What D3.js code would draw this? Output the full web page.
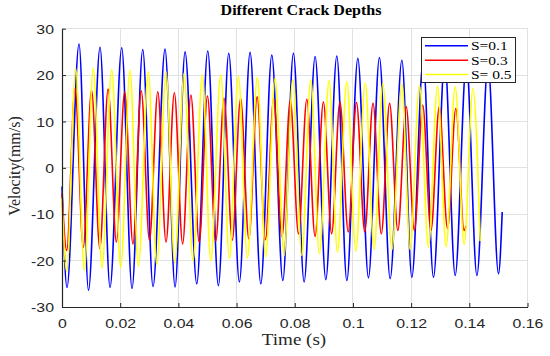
<!DOCTYPE html>
<html>
<head>
<meta charset="utf-8">
<script src="https://cdn.jsdelivr.net/npm/d3@7"></script>
<style>
  html, body { margin: 0; padding: 0; background: #fff; }
  svg { display: block; }
</style>
</head>
<body>
<svg id="chart" width="550" height="356"></svg>
<script>
// ---------- data (extrema; time in s, velocity in mm/s) ----------
const titleText = "Different Crack Depths";
const xLabel = "Time (s)";
const yLabel = "Velocity(mm/s)";
const seriesNames = ["S=0.1", "S=0.3", "S= 0.5"];
const seriesColors = ["#0000ff", "#ff0000", "#ffff00"];
const xTicks = [0, 0.02, 0.04, 0.06, 0.08, 0.1, 0.12, 0.14, 0.16];
const xTickLabels = ["0", "0.02", "0.04", "0.06", "0.08", "0.1", "0.12", "0.14", "0.16"];
const yTicks = [-30, -20, -10, 0, 10, 20, 30];
const yTickLabels = ["-30", "-20", "-10", "0", "10", "20", "30"];

const blueT = [0, 0.00172, 0.00585, 0.00911, 0.01307, 0.01651, 0.02053, 0.02407, 0.02775, 0.03129,
  0.03542, 0.03886, 0.04230, 0.04632, 0.05010, 0.05375, 0.05732, 0.06097, 0.06465, 0.06833,
  0.07211, 0.07590, 0.07954, 0.08322, 0.08700, 0.09068, 0.09446, 0.09790, 0.10169, 0.10533,
  0.10911, 0.11279, 0.11682, 0.12025, 0.12414, 0.12768, 0.13157, 0.13514, 0.13900, 0.14261,
  0.14643, 0.15003, 0.15131];
const blueV = [-4, -25.8, 26.7, -26.4, 26.0, -25.8, 25.9, -26.0, 25.5, -25.6,
  25.6, -25.7, 25.0, -25.0, 25.2, -25.4, 24.7, -24.6, 24.9, -25.0,
  24.3, -24.3, 24.7, -24.6, 24.0, -24.1, 24.1, -24.3, 23.6, -23.7,
  23.8, -23.9, 23.2, -23.6, 23.2, -23.6, 23.0, -23.2, 22.8, -23.2,
  22.6, -22.8, -9.5];

const redT = [0, 0.00162, 0.00447, 0.00731, 0.01016, 0.01300, 0.01585, 0.01869, 0.02154, 0.02438,
  0.02724, 0.03007, 0.03293, 0.03576, 0.03862, 0.04145, 0.04431, 0.04715, 0.05000, 0.05284,
  0.05569, 0.05853, 0.06138, 0.06422, 0.06707, 0.06991, 0.07276, 0.07560, 0.07846, 0.08129,
  0.08415, 0.08698, 0.08984, 0.09268, 0.09553, 0.09837, 0.10122, 0.10406, 0.10691, 0.10975,
  0.11260, 0.11544, 0.11829, 0.12113, 0.12399, 0.12682, 0.12968, 0.13251, 0.13537, 0.13820,
  0.13890];
const redV = [-5.5, -17.8, 17.1, -17.1, 16.8, -17.4, 17.0, -16.0, 16.4, -16.4,
  16.6, -15.6, 16.4, -16.0, 16.2, -16.4, 15.7, -16.0, 15.5, -15.8,
  15.0, -15.6, 15.0, -15.3, 15.3, -15.5, 15.0, -14.8, 14.6, -14.2,
  14.8, -14.8, 14.2, -14.2, 14.2, -13.8, 14.1, -13.8, 13.9, -14.2,
  13.9, -13.5, 13.2, -13.5, 13.5, -13.5, 13.2, -13.1, 12.8, -13.5,
  -12.5];

const yellowT = [0, 0.00162, 0.00471, 0.00767, 0.01076, 0.01376, 0.01709, 0.02019, 0.02338, 0.02624,
  0.02968, 0.03257, 0.03576, 0.03875, 0.04195, 0.04505, 0.04825, 0.05114, 0.05457, 0.05753,
  0.06063, 0.06372, 0.06716, 0.06998, 0.07325, 0.07634, 0.07933, 0.08243, 0.08552, 0.08848,
  0.09182, 0.09467, 0.09790, 0.10100, 0.10420, 0.10729, 0.11028, 0.11338, 0.11682, 0.11967,
  0.12287, 0.12596, 0.12906, 0.13205, 0.13514, 0.13824, 0.14123, 0.14374];
const yellowV = [-6.6, -22.3, 21.4, -22.1, 21.5, -21.6, 21.2, -21.5, 21.1, -21.2,
  20.7, -20.9, 20.7, -20.5, 20.4, -20.0, 20.1, -20.0, 20.0, -19.5,
  19.8, -19.4, 19.5, -19.2, 19.3, -18.9, 19.1, -18.9, 19.0, -18.5,
  18.8, -18.2, 18.6, -18.0, 18.3, -17.6, 18.2, -17.6, 18.1, -17.6,
  17.8, -17.1, 17.6, -17.0, 17.5, -16.5, 17.1, -15.8];

// ---------- layout ----------
const svg = d3.select("#chart");
const mLeft = 62, mRight = 527.5, mTop = 28.7, mBottom = 307;
const x = d3.scaleLinear().domain([0, 0.16]).range([mLeft, mRight]);
const y = d3.scaleLinear().domain([-30, 30]).range([mBottom, mTop]);
const axisColor = "#262626";
const gridColor = "#e1e1e1";
const sx = 1.22; // horizontal stretch of the reference's text

// grid
svg.append("g").selectAll("line").data(xTicks).join("line")
  .attr("x1", d => x(d)).attr("x2", d => x(d))
  .attr("y1", mTop).attr("y2", mBottom)
  .attr("stroke", gridColor).attr("stroke-width", 1).attr("shape-rendering", "crispEdges");
svg.append("g").selectAll("line").data(yTicks).join("line")
  .attr("x1", mLeft).attr("x2", mRight)
  .attr("y1", d => y(d)).attr("y2", d => y(d))
  .attr("stroke", gridColor).attr("stroke-width", 1).attr("shape-rendering", "crispEdges");

// lines
const line = d3.line().x(d => x(d[0])).y(d => y(d[1])).curve(d3.curveMonotoneX);
const allSeries = [
  d3.zip(blueT, blueV),
  d3.zip(redT, redV),
  d3.zip(yellowT, yellowV)
];
const plot = svg.append("g");
allSeries.forEach((s, i) => {
  plot.append("path").datum(s)
    .attr("d", line)
    .attr("fill", "none")
    .attr("stroke", seriesColors[i])
    .attr("stroke-width", 1.6)
    .attr("stroke-linejoin", "round");
});

// axes (ticks inside)
const xAxis = d3.axisBottom(x).tickValues(xTicks).tickSize(-4).tickSizeOuter(0)
  .tickFormat((d, i) => xTickLabels[i]);
const yAxis = d3.axisLeft(y).tickValues(yTicks).tickSize(-4).tickSizeOuter(0)
  .tickFormat((d, i) => yTickLabels[i]);

const gx = svg.append("g").attr("transform", `translate(0,${mBottom})`).call(xAxis);
const gy = svg.append("g").attr("transform", `translate(${mLeft},0)`).call(yAxis);
[gx, gy].forEach(g => {
  g.select(".domain").attr("stroke", axisColor).attr("stroke-width", 1.2);
  g.selectAll(".tick line").attr("stroke", axisColor);
  g.selectAll(".tick text")
    .attr("fill", axisColor)
    .attr("font-family", "'Liberation Sans', Arial, sans-serif")
    .attr("font-size", 13);
});
gx.selectAll(".tick text").attr("y", 0).attr("dy", 0)
  .attr("transform", `translate(0,21) scale(${sx},1)`);
gy.selectAll(".tick text").attr("x", 0).attr("dy", "0.35em")
  .attr("text-anchor", "end")
  .attr("transform", `translate(-8,0) scale(${sx},1)`);

// title
svg.append("text")
  .attr("transform", `translate(301,15) scale(1.07,1)`)
  .attr("text-anchor", "middle")
  .attr("font-family", "'Liberation Serif', 'Times New Roman', serif")
  .attr("font-weight", "bold").attr("font-size", 15)
  .attr("fill", "#000")
  .text(titleText);

// x label
svg.append("text")
  .attr("transform", `translate(294,345) scale(1.19,1)`)
  .attr("text-anchor", "middle")
  .attr("font-family", "'Liberation Serif', 'Times New Roman', serif")
  .attr("font-size", 16).attr("fill", "#262626")
  .text(xLabel);

// y label
svg.append("text")
  .attr("transform", `translate(20,166) rotate(-90)`)
  .attr("text-anchor", "middle")
  .attr("font-family", "'Liberation Serif', 'Times New Roman', serif")
  .attr("font-size", 16).attr("fill", "#262626")
  .text(yLabel);

// legend
const lg = svg.append("g");
lg.append("rect")
  .attr("x", 421.5).attr("y", 37.5).attr("width", 94).attr("height", 45)
  .attr("fill", "#fff").attr("stroke", axisColor).attr("stroke-width", 1);
const rowsY = [45.7, 60.3, 74.5];
seriesNames.forEach((name, i) => {
  lg.append("line")
    .attr("x1", 425).attr("x2", 468)
    .attr("y1", rowsY[i]).attr("y2", rowsY[i])
    .attr("stroke", seriesColors[i]).attr("stroke-width", 1.6);
  lg.append("text")
    .attr("transform", `translate(471,${rowsY[i] + 4.5}) scale(1.19,1)`)
    .attr("font-family", "'Liberation Serif', 'Times New Roman', serif")
    .attr("font-size", 13).attr("fill", "#000")
    .text(name);
});
</script>
</body>
</html>
